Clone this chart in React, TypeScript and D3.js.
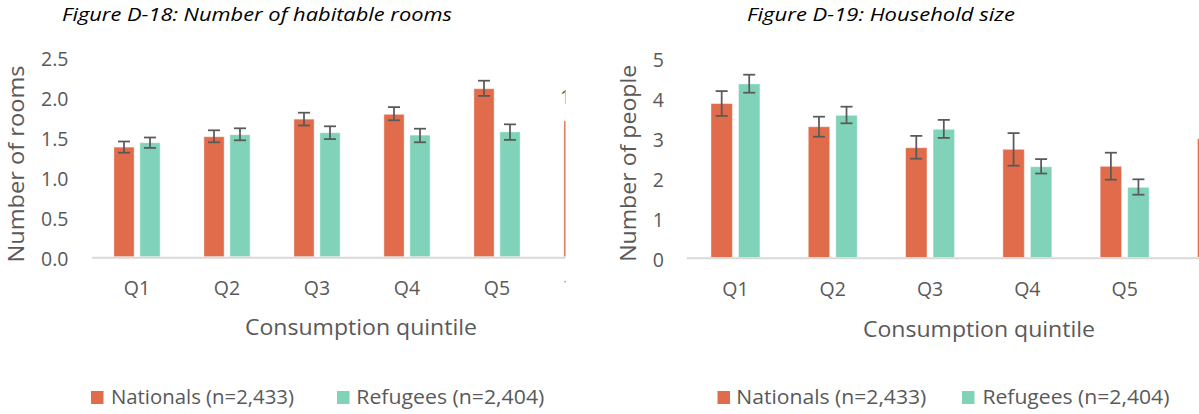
import React from "react";
import * as d3 from "d3";

// ---------- data ----------
const categories = ["Q1", "Q2", "Q3", "Q4", "Q5", "Total"];
const seriesNames = ["Nationals (n=2,433)", "Refugees (n=2,404)"];

// Figure D-18: Number of habitable rooms
const roomsNationals = [1.37, 1.5, 1.72, 1.78, 2.1, 1.7];
const roomsNationalsLow = [1.3, 1.43, 1.64, 1.705, 2.01, null];
const roomsNationalsHigh = [1.44, 1.58, 1.8, 1.87, 2.2, null];
const roomsRefugees = [1.425, 1.525, 1.55, 1.52, 1.56, null];
const roomsRefugeesLow = [1.36, 1.455, 1.47, 1.43, 1.46, null];
const roomsRefugeesHigh = [1.49, 1.605, 1.63, 1.6, 1.655, null];
const roomsTicks = [0, 0.5, 1, 1.5, 2, 2.5];

// Figure D-19: Household size
const sizeNationals = [3.85, 3.27, 2.745, 2.705, 2.28, 2.97];
const sizeNationalsLow = [3.54, 3.02, 2.47, 2.295, 1.945, null];
const sizeNationalsHigh = [4.16, 3.52, 3.04, 3.11, 2.62, null];
const sizeRefugees = [4.34, 3.555, 3.205, 2.27, 1.755, null];
const sizeRefugeesLow = [4.12, 3.355, 2.99, 2.1, 1.57, null];
const sizeRefugeesHigh = [4.57, 3.77, 3.44, 2.46, 1.955, null];
const sizeTicks = [0, 1, 2, 3, 4, 5];

const colors = ["#E06C4B", "#80D2B9"];
const FONT = "'Open Sans', sans-serif";
const GREY = "#595959";

type Panel = {
  id: string;
  title: string;
  titleX: number;
  titleLen: number;
  yTitle: string;
  yTitleX: number;
  yTitleY: number;
  xTitleX: number;
  xTitleY: number;
  xLabelY: number;
  x0: number;
  step: number;
  yBase: number;
  yTop: number;
  max: number;
  ticks: number[];
  fmt: (v: number) => string;
  tickX: number;
  clipRight: number;
  axisY: number;
  values: (number | null)[][];
  lows: (number | null)[][];
  highs: (number | null)[][];
  pad: number;
  legendX: number[];
  legendTextX: number[];
  legendLen: number[];
  extraText?: { t: string; x: number; y: number };
};

const panels: Panel[] = [
  {
    id: "p1",
    title: "Figure D-18: Number of habitable rooms",
    titleX: 257,
    titleLen: 390,
    yTitle: "Number of rooms",
    yTitleX: 23.5,
    yTitleY: 164,
    xTitleX: 361,
    xTitleY: 335,
    xLabelY: 295,
    x0: 92,
    step: 90,
    yBase: 256.7,
    yTop: 56.7,
    max: 2.5,
    ticks: roomsTicks,
    fmt: d3.format(".1f"),
    tickX: 68.5,
    clipRight: 565.5,
    axisY: 257.7,
    values: [roomsNationals, roomsRefugees],
    lows: [roomsNationalsLow, roomsRefugeesLow],
    highs: [roomsNationalsHigh, roomsRefugeesHigh],
    pad: 0.486,
    legendX: [91, 337],
    legendTextX: [111, 356.3],
    legendLen: [183, 188],
    extraText: { t: "1", x: 560, y: 96 },
  },
  {
    id: "p2",
    title: "Figure D-19: Household size",
    titleX: 881,
    titleLen: 268,
    yTitle: "Number of people",
    yTitleX: 636,
    yTitleY: 163.3,
    xTitleX: 979,
    xTitleY: 336.5,
    xLabelY: 296,
    x0: 686.8,
    step: 97.3,
    yBase: 257.5,
    yTop: 57.5,
    max: 5,
    ticks: sizeTicks,
    fmt: d3.format("d"),
    tickX: 664,
    clipRight: 1199,
    axisY: 258.3,
    values: [sizeNationals, sizeRefugees],
    lows: [sizeNationalsLow, sizeRefugeesLow],
    highs: [sizeNationalsHigh, sizeRefugeesHigh],
    pad: 0.4964,
    legendX: [717.5, 962],
    legendTextX: [736.3, 982.4],
    legendLen: [190, 187],
  },
];

function ChartPanel({ p }: { p: Panel }) {
  const x = d3
    .scaleBand<string>()
    .domain(categories)
    .range([p.x0, p.x0 + categories.length * p.step])
    .paddingInner(p.pad)
    .paddingOuter(p.pad / 2);
  const x1 = d3
    .scaleBand<number>()
    .domain([0, 1])
    .range([0, x.bandwidth()])
    .paddingInner(0.22);
  const y = d3.scaleLinear().domain([0, p.max]).range([p.yBase, p.yTop]);
  const clipId = `clip-${p.id}`;
  const capW = 12;

  return (
    <g>
      <defs>
        <clipPath id={clipId}>
          <rect x={p.x0 - 200} y={0} width={p.clipRight - (p.x0 - 200)} height={414} />
        </clipPath>
      </defs>
      <text
        x={p.titleX}
        y={21}
        textAnchor="middle"
        fontFamily={FONT}
        fontStyle="italic"
        fontSize={18.7}
        fill="#000"
        textLength={p.titleLen}
        lengthAdjust="spacingAndGlyphs"
      >
        {p.title}
      </text>
      {p.ticks.map((t) => (
        <text
          key={t}
          x={p.tickX}
          y={y(t) + 1.5}
          textAnchor="end"
          dominantBaseline="central"
          fontFamily={FONT}
          fontSize={19.5}
          fill={GREY}
        >
          {p.fmt(t)}
        </text>
      ))}
      <text
        transform={`translate(${p.yTitleX},${p.yTitleY}) rotate(-90)`}
        textAnchor="middle"
        fontFamily={FONT}
        fontSize={21}
        fill={GREY}
        textLength={197}
        lengthAdjust="spacingAndGlyphs"
      >
        {p.yTitle}
      </text>
      <g clipPath={`url(#${clipId})`}>
        {p.values.map((vals, si) =>
          vals.map((v, ci) =>
            v == null ? null : (
              <rect
                key={`b${si}-${ci}`}
                x={(x(categories[ci]) as number) + (x1(si) as number)}
                y={y(v)}
                width={x1.bandwidth()}
                height={y(0) - y(v)}
                fill={colors[si]}
                stroke="#ffffff"
                strokeOpacity={0.45}
                strokeWidth={1}
              />
            )
          )
        )}
        <line
          x1={p.x0}
          x2={p.clipRight}
          y1={p.axisY}
          y2={p.axisY}
          stroke="#D9D9D9"
          strokeWidth={2}
        />
        {p.values.map((vals, si) =>
          vals.map((v, ci) => {
            const lo = p.lows[si][ci];
            const hi = p.highs[si][ci];
            if (v == null || lo == null || hi == null) return null;
            const cx = (x(categories[ci]) as number) + (x1(si) as number) + x1.bandwidth() / 2;
            return (
              <g key={`e${si}-${ci}`} stroke={GREY} strokeWidth={1.75}>
                <line x1={cx} x2={cx} y1={y(hi)} y2={y(lo)} />
                <line x1={cx - capW / 2} x2={cx + capW / 2} y1={y(hi)} y2={y(hi)} />
                <line x1={cx - capW / 2} x2={cx + capW / 2} y1={y(lo)} y2={y(lo)} />
              </g>
            );
          })
        )}
        {categories.map((c) => (
          <text
            key={c}
            x={(x(c) as number) + x.bandwidth() / 2}
            y={p.xLabelY}
            textAnchor="middle"
            fontFamily={FONT}
            fontSize={19.5}
            fill={GREY}
          >
            {c}
          </text>
        ))}
        {p.extraText && (
          <text
            x={p.extraText.x}
            y={p.extraText.y}
            dominantBaseline="central"
            fontFamily={FONT}
            fontSize={19.5}
            fill={GREY}
          >
            {p.extraText.t}
          </text>
        )}
      </g>
      <text
        x={p.xTitleX}
        y={p.xTitleY}
        textAnchor="middle"
        fontFamily={FONT}
        fontSize={22.4}
        fill={GREY}
        textLength={232}
        lengthAdjust="spacingAndGlyphs"
      >
        Consumption quintile
      </text>
      {seriesNames.map((s, si) => (
        <g key={s}>
          <rect x={p.legendX[si]} y={391} width={12.5} height={13} fill={colors[si]} />
          <text
            x={p.legendTextX[si]}
            y={404.3}
            fontFamily={FONT}
            fontSize={19.6}
            fill={GREY}
            textLength={p.legendLen[si]}
            lengthAdjust="spacingAndGlyphs"
          >
            {s}
          </text>
        </g>
      ))}
    </g>
  );
}

export default function App() {
  return (
    <svg
      width={1199}
      height={414}
      viewBox="0 0 1199 414"
      style={{ position: "absolute", left: 0, top: 0, background: "#fff" }}
    >
      <rect x={0} y={0} width={1199} height={414} fill="#fff" />
      {panels.map((p) => (
        <ChartPanel key={p.id} p={p} />
      ))}
    </svg>
  );
}
